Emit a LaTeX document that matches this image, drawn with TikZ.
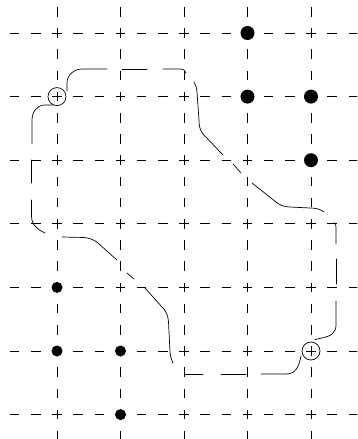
\documentclass[tikz,border=0pt]{standalone}
\begin{document}
\begin{tikzpicture}[x=1pt,y=-1pt,
  hgrid/.style={line width=0.8pt, dash pattern=on 9.5pt off 11.667pt},
  vgrid/.style={line width=0.8pt, dash pattern=on 9.5pt off 11.7pt},
  loopline/.style={line width=0.7pt, line cap=round, line join=round},
  bigdot/.style={circle, fill=black, inner sep=0pt, minimum size=14pt},
  smalldot/.style={circle, fill=black, inner sep=0pt, minimum size=11pt},
  ring/.style={circle, draw=black, line width=0.7pt, inner sep=0pt, minimum size=18pt}]
\useasboundingbox (0,0) rectangle (357,439);
\begin{scope}
  \clip (0,0) rectangle (357,439);
  \foreach \j in {0,...,6} {
    \draw[hgrid] (9.92,{33+63.6*\j}) -- (365,{33+63.6*\j});
  }
  \foreach \i in {0,...,4} {
    \draw[vgrid] ({57+63.5*\i},-14.15) -- ({57+63.5*\i},450);
  }
\end{scope}
% dots
\node[bigdot] (b1) at (247.5,33) {};
\node[bigdot] (b2) at (247.5,96.6) {};
\node[bigdot] (b3) at (311,96.6) {};
\node[bigdot] (b4) at (311,160.2) {};
\node[smalldot] (s1) at (57,287.4) {};
\node[smalldot] (s2) at (57,351) {};
\node[smalldot] (s3) at (120.5,351) {};
\node[smalldot] (s4) at (120.5,414.6) {};
% rings
\node[ring] (r1) at (57,96.6) {};
\node[ring] (r2) at (311,351) {};
% loop, drawn piece by piece
\draw[loopline] (107,69) -- (82,69) .. controls (74,69) and (67,75) .. (67,83) -- (67,91);
\draw[loopline] (53,105) -- (45,105) .. controls (37,105) and (32,112) .. (32,120) -- (32,144);
\draw[loopline] (31.5,160) -- (31.5,183);
\draw[loopline] (31.5,200) -- (31.5,216) .. controls (31.5,225) and (38,230) .. (45,233);
\draw[loopline] (62,237) -- (84,237.5) .. controls (90,238) and (95,240) .. (99,244) -- (117,260);
\draw[loopline] (127,273) -- (134,279);
\draw[loopline] (145,288) -- (162,307) .. controls (166,311) and (168,315) .. (168.5,322) -- (170,352) .. controls (170.5,357) and (171.5,360) .. (173,363);
\draw[loopline] (184,369) -- (184,374) -- (203,374);
\draw[loopline] (221,374) -- (246,374);
\draw[loopline] (261,374) -- (286,374) .. controls (296,374) and (299,366) .. (301,356);
\draw[loopline] (315,339.5) -- (322,338) .. controls (331,336) and (336,333) .. (336,325) -- (336,301);
\draw[loopline] (336,284) -- (336,259);
\draw[loopline] (336,244) -- (336,227) .. controls (336,225) and (335.5,223.5) .. (334,222.5);
\draw[loopline] (324,212) .. controls (320,209) and (316,208) .. (310,208) -- (290,207) .. controls (284,207) and (280,205) .. (276,202) -- (252,183);
\draw[loopline] (241,173) -- (233,164);
\draw[loopline] (223,155) -- (203,134) .. controls (200,130) and (199,126) .. (199,120) -- (197,92) .. controls (196.5,88) and (196,85) .. (194,82);
\draw[loopline] (163,69) -- (181,69) .. controls (183.5,69) and (185,70.5) .. (186,73);
\draw[loopline] (122,69) -- (147,69);
\end{tikzpicture}
\end{document}
